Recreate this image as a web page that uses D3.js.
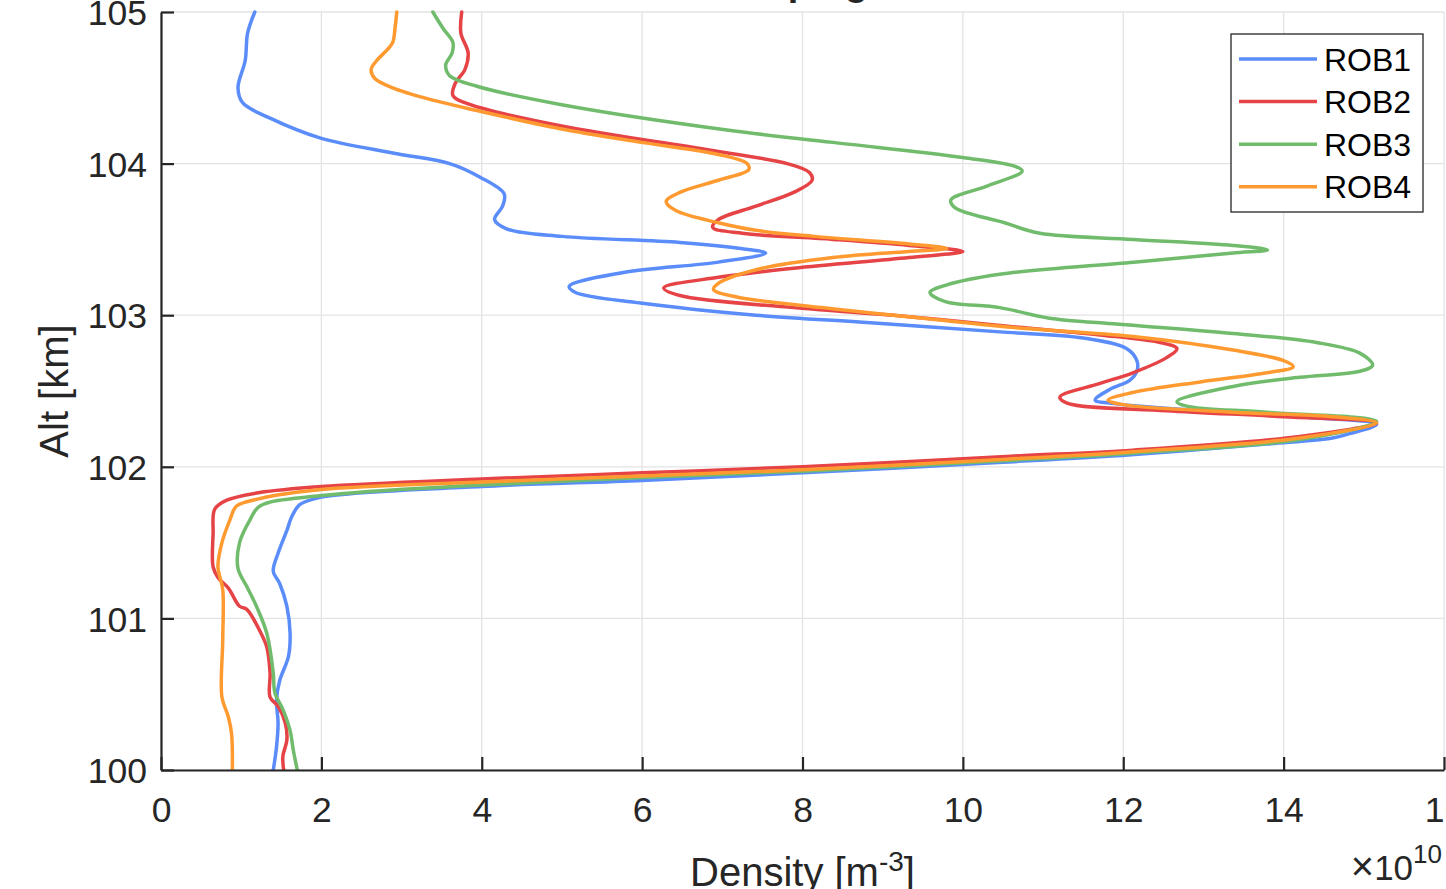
<!DOCTYPE html>
<html>
<head>
<meta charset="utf-8">
<script src="https://cdn.jsdelivr.net/npm/d3@7"></script>
<style>
  body { margin: 0; background: #fff; }
  svg { display: block; font-family: "Liberation Sans", Arial, Helvetica, sans-serif; }
</style>
</head>
<body>
<div id="graph"></div>
<script>
// series: [altitude km, density x1e10 m^-3], read top to bottom
const rob1 = [
  [105.00, 1.17], [104.86, 1.08], [104.68, 1.05], [104.50, 0.96], [104.40, 1.02],
  [104.30, 1.36], [104.17, 1.98], [104.07, 2.89], [104.00, 3.60], [103.91, 3.98],
  [103.80, 4.28], [103.72, 4.26], [103.63, 4.16], [103.57, 4.31], [103.52, 5.00],
  [103.48, 6.47], [103.44, 7.23], [103.41, 7.54], [103.35, 6.95], [103.28, 5.75],
  [103.19, 5.09], [103.15, 5.17], [103.08, 5.98], [103.00, 7.42], [102.95, 8.85],
  [102.89, 10.46], [102.85, 11.50], [102.78, 12.04], [102.70, 12.17], [102.63, 12.17],
  [102.57, 12.08], [102.51, 11.83], [102.44, 11.65], [102.42, 11.83], [102.37, 12.96],
  [102.33, 14.20], [102.28, 15.16], [102.22, 14.83], [102.19, 14.61], [102.15, 13.79],
  [102.08, 12.10], [102.03, 10.50], [101.96, 8.00], [101.91, 6.00], [101.87, 4.00],
  [101.80, 2.00], [101.75, 1.73], [101.67, 1.63], [101.58, 1.57], [101.43, 1.46],
  [101.31, 1.40], [101.23, 1.48], [101.08, 1.57], [100.90, 1.61], [100.75, 1.59],
  [100.59, 1.48], [100.46, 1.44], [100.31, 1.46], [100.15, 1.44], [100.00, 1.40],
];
const rob2 = [
  [105.00, 3.75], [104.86, 3.74], [104.73, 3.83], [104.62, 3.79], [104.53, 3.67],
  [104.45, 3.64], [104.39, 3.85], [104.25, 4.98], [104.08, 6.95], [104.00, 7.81],
  [103.94, 8.09], [103.89, 8.12], [103.81, 7.89], [103.72, 7.42], [103.63, 6.95],
  [103.58, 6.88], [103.54, 7.25], [103.50, 8.38], [103.46, 9.33], [103.42, 10.00],
  [103.38, 9.33], [103.31, 7.89], [103.25, 6.95], [103.18, 6.27], [103.13, 6.47],
  [103.05, 7.89], [102.99, 9.33], [102.92, 10.70], [102.87, 11.71], [102.82, 12.46],
  [102.78, 12.67], [102.72, 12.54], [102.62, 12.12], [102.55, 11.71], [102.46, 11.21],
  [102.42, 11.30], [102.37, 12.54], [102.33, 14.00], [102.29, 15.16], [102.20, 14.20],
  [102.11, 12.12], [102.07, 10.60], [102.00, 8.00], [101.96, 6.00], [101.92, 4.00],
  [101.87, 2.00], [101.83, 1.23], [101.78, 0.82], [101.72, 0.67], [101.56, 0.65],
  [101.34, 0.65], [101.27, 0.71], [101.20, 0.84], [101.08, 0.98], [101.06, 1.07],
  [100.92, 1.23], [100.81, 1.32], [100.64, 1.36], [100.48, 1.36], [100.42, 1.46],
  [100.31, 1.55], [100.20, 1.57], [100.09, 1.52], [100.00, 1.53],
];
const rob3 = [
  [105.00, 3.39], [104.89, 3.52], [104.80, 3.64], [104.73, 3.63], [104.65, 3.55],
  [104.58, 3.60], [104.51, 3.94], [104.39, 4.98], [104.22, 7.08], [104.14, 8.38],
  [104.04, 10.00], [103.98, 10.66], [103.95, 10.74], [103.85, 10.29], [103.76, 9.85],
  [103.71, 9.90], [103.61, 10.52], [103.54, 10.96], [103.50, 12.13], [103.46, 13.37],
  [103.43, 13.80], [103.41, 13.37], [103.35, 12.13], [103.27, 10.46], [103.20, 9.80],
  [103.15, 9.59], [103.09, 9.78], [103.05, 10.46], [102.98, 11.08], [102.95, 11.71],
  [102.88, 13.37], [102.82, 14.41], [102.75, 14.95], [102.67, 15.11], [102.63, 14.95],
  [102.59, 14.20], [102.53, 13.37], [102.43, 12.67], [102.40, 12.79], [102.36, 13.79],
  [102.30, 15.16], [102.18, 14.20], [102.09, 12.12], [102.04, 10.50], [101.97, 8.00],
  [101.93, 6.00], [101.88, 4.00], [101.81, 2.00], [101.74, 1.23], [101.65, 1.11],
  [101.50, 0.98], [101.33, 0.96], [101.21, 1.07], [101.08, 1.19], [100.90, 1.32],
  [100.64, 1.40], [100.51, 1.42], [100.40, 1.52], [100.26, 1.61], [100.13, 1.65],
  [100.00, 1.70],
];
const rob4 = [
  [105.00, 2.94], [104.90, 2.92], [104.80, 2.89], [104.75, 2.82], [104.68, 2.69],
  [104.62, 2.62], [104.56, 2.67], [104.50, 2.89], [104.43, 3.31], [104.35, 3.94],
  [104.23, 4.98], [104.14, 5.99], [104.06, 6.95], [104.00, 7.31], [103.96, 7.33],
  [103.89, 6.95], [103.81, 6.47], [103.75, 6.30], [103.69, 6.42], [103.61, 6.95],
  [103.56, 7.42], [103.52, 8.14], [103.47, 9.33], [103.44, 9.80], [103.42, 9.33],
  [103.38, 8.38], [103.30, 7.42], [103.21, 6.95], [103.17, 6.89], [103.12, 7.18],
  [103.07, 7.89], [102.99, 9.33], [102.92, 10.60], [102.86, 12.12], [102.77, 13.37],
  [102.70, 14.00], [102.66, 14.12], [102.62, 13.79], [102.56, 12.96], [102.49, 12.12],
  [102.44, 11.81], [102.41, 12.00], [102.36, 13.37], [102.33, 14.62], [102.29, 15.16],
  [102.19, 14.20], [102.10, 12.12], [102.05, 10.55], [101.98, 8.00], [101.94, 6.00],
  [101.90, 4.00], [101.85, 2.00], [101.79, 1.23], [101.74, 0.94], [101.65, 0.86],
  [101.50, 0.76], [101.34, 0.71], [101.19, 0.77], [100.86, 0.77], [100.48, 0.76],
  [100.35, 0.84], [100.24, 0.88], [100.00, 0.89],
];

const seriesNames = ['ROB1', 'ROB2', 'ROB3', 'ROB4'];
const seriesData = [rob1, rob2, rob3, rob4];
const xTicks = [0, 2, 4, 6, 8, 10, 12, 14, 16];
const yTicks = [100, 101, 102, 103, 104, 105];

const colors = ['#5a8cfa', '#e54345', '#71bc6c', '#ff9a30'];
const ink = '#262626';

const canvasWidth = 1446;
const canvasHeight = 889;
const plot = { left: 161, right: 1444, top: 12, bottom: 770 };

const svg = d3.select('#graph')
  .append('svg')
    .attr('width', canvasWidth)
    .attr('height', canvasHeight);

const scaleX = d3.scaleLinear().domain([0, 16]).range([plot.left, plot.right]);
const scaleY = d3.scaleLinear().domain([100, 105]).range([plot.bottom, plot.top]);

// grid
const grid = svg.append('g')
  .attr('stroke', '#e3e3e3')
  .attr('stroke-width', 1.3);
grid.selectAll('.gx').data(xTicks).enter().append('line')
  .attr('x1', d => scaleX(d)).attr('x2', d => scaleX(d))
  .attr('y1', plot.top).attr('y2', plot.bottom);
grid.selectAll('.gy').data(yTicks).enter().append('line')
  .attr('y1', d => scaleY(d)).attr('y2', d => scaleY(d))
  .attr('x1', plot.left).attr('x2', plot.right);

// title (mostly outside the canvas, only descenders visible)
svg.append('text')
  .attr('x', (plot.left + plot.right) / 2)
  .attr('y', -5)
  .attr('text-anchor', 'middle')
  .attr('font-size', 38)
  .attr('font-weight', 'bold')
  .attr('fill', ink)
  .text('Doping');

// profiles
svg.append('clipPath').attr('id', 'clip')
  .append('rect')
    .attr('x', plot.left).attr('y', plot.top - 2)
    .attr('width', plot.right - plot.left + 2).attr('height', plot.bottom - plot.top + 2);

const line = d3.line()
  .x(d => scaleX(d[1]))
  .y(d => scaleY(d[0]))
  .curve(d3.curveCatmullRom.alpha(0.5));

svg.append('g')
  .attr('clip-path', 'url(#clip)')
  .selectAll('path')
  .data(seriesData)
  .enter().append('path')
    .attr('d', line)
    .attr('fill', 'none')
    .attr('stroke', (d, i) => colors[i])
    .attr('stroke-width', 3.5)
    .attr('stroke-linejoin', 'round')
    .attr('stroke-linecap', 'round');

// axes
const axisX = d3.axisBottom(scaleX).tickValues(xTicks).tickFormat(d3.format('d'))
  .tickSize(-13).tickSizeOuter(0);
const axisY = d3.axisLeft(scaleY).tickValues(yTicks).tickFormat(d3.format('d'))
  .tickSize(-13).tickSizeOuter(0);

const gx = svg.append('g')
  .attr('transform', `translate(0, ${plot.bottom})`)
  .call(axisX);
const gy = svg.append('g')
  .attr('transform', `translate(${plot.left}, 0)`)
  .call(axisY);

[gx, gy].forEach(g => {
  g.attr('font-family', null).attr('font-size', null);
  g.select('.domain').attr('stroke', ink).attr('stroke-width', 2.2);
  g.selectAll('.tick line').attr('stroke', ink).attr('stroke-width', 2.2);
  g.selectAll('.tick text').attr('fill', ink).attr('font-size', 35.5);
});
gx.selectAll('.tick text').attr('y', 52).attr('dy', 0);
gy.selectAll('.tick text').attr('x', -14).attr('dy', '0.36em');

// axis labels
svg.append('text')
  .attr('transform', `translate(68, ${(plot.top + plot.bottom) / 2}) rotate(-90)`)
  .attr('text-anchor', 'middle')
  .attr('font-size', 40)
  .attr('fill', ink)
  .text('Alt [km]');

const xLabel = svg.append('text')
  .attr('x', (plot.left + plot.right) / 2)
  .attr('y', 886)
  .attr('text-anchor', 'middle')
  .attr('font-size', 40)
  .attr('fill', ink);
xLabel.append('tspan').text('Density [m');
xLabel.append('tspan').attr('dy', -15).attr('font-size', 28).text('-3');
xLabel.append('tspan').attr('dy', 15).text(']');

const expLabel = svg.append('text')
  .attr('x', 1442)
  .attr('y', 880)
  .attr('text-anchor', 'end')
  .attr('font-size', 35)
  .attr('fill', ink);
expLabel.append('tspan').attr('font-size', 40).text('\u00d7');
expLabel.append('tspan').text('10');
expLabel.append('tspan').attr('dy', -17).attr('font-size', 26).text('10');

// legend
const legend = svg.append('g');
legend.append('rect')
  .attr('x', 1231).attr('y', 34)
  .attr('width', 192).attr('height', 178)
  .attr('fill', '#fff')
  .attr('stroke', ink)
  .attr('stroke-width', 1.3);

const rows = legend.selectAll('.row')
  .data(seriesNames)
  .enter().append('g')
    .attr('transform', (d, i) => `translate(0, ${59 + i * 42.6})`);
rows.append('line')
  .attr('x1', 1239).attr('x2', 1317)
  .attr('stroke', (d, i) => colors[i])
  .attr('stroke-width', 3.5);
rows.append('text')
  .attr('x', 1324)
  .attr('dy', '0.36em')
  .attr('font-size', 32)
  .attr('fill', '#000')
  .text(d => d);
</script>
</body>
</html>
